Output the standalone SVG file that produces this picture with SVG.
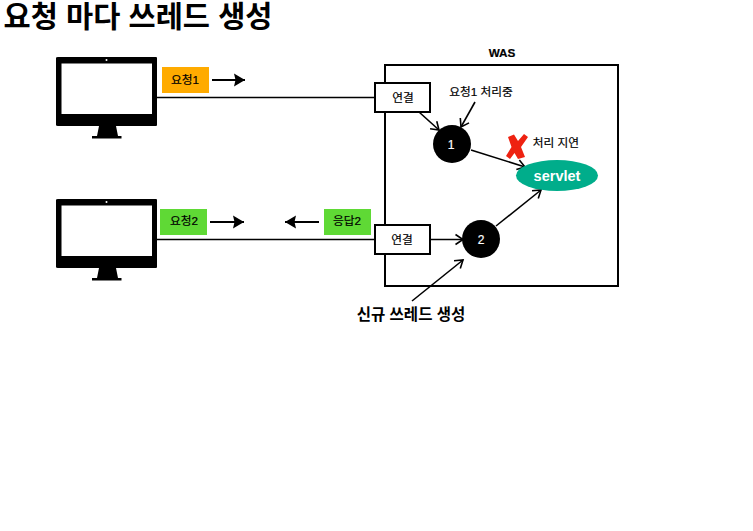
<svg xmlns="http://www.w3.org/2000/svg" width="753" height="531" viewBox="0 0 753 531">
<style>
text{font-family:"Liberation Sans","Noto Sans CJK KR",sans-serif;fill:#000;text-anchor:middle}
.s{font-size:11.7px;stroke:#000;stroke-width:.2}
.w{font-size:12px;fill:#fff;stroke:#fff;stroke-width:.2}
.b{font-weight:bold}
.line{fill:none;stroke:#000;stroke-width:1.6}
.arr{marker-end:url(#a)}
.box{fill:#fff;stroke:#000;stroke-width:2}
.big{fill:none;stroke:#000;stroke-width:2}
</style>
<defs>
<marker id="a" markerUnits="userSpaceOnUse" markerWidth="14" markerHeight="14" refX="11" refY="7" orient="auto"><path d="M3.500 2L11 7L3.500 12" fill="none" stroke="#000" stroke-width="1.600"/></marker>
<marker id="t" markerUnits="userSpaceOnUse" markerWidth="12" markerHeight="14" refX="11" refY="7" orient="auto"><path d="M0 .500L11 7L0 13.500L1.500 7Z" fill="#000"/></marker>
<g id="mon"><path fill-rule="evenodd" d="M58 57H156Q157 57 157 58V125Q157 126 156 126H58Q56 126 56 125V58Q56 57 58 57ZM61.500 63.500V114H152V63.500Z" fill="#000"/><circle cx="106.500" cy="60" r="1" fill="#fff"/><path d="M99 126H116L118 136H121.500V138.500H92V136H97Z" fill="#000"/></g>
</defs>
<text id="title" x="138" y="27" class="b" style="font-size:29.500px">요청 마다 쓰레드 생성</text>
<g id="connectors">
<path class="line" d="M157 97.500H375"/>
<path class="line" d="M157 239.500H375"/>
<path class="line arr" d="M419 112L439 130"/>
<path class="line arr" d="M475 102L461 127"/>
<path class="line arr" d="M471 150L525 167"/>
<path class="line arr" d="M430 239.500H463"/>
<path class="line arr" d="M496 226L541 190"/>
<path class="line arr" d="M412 301L463 260"/>
<path class="big" d="M212 80H245" marker-end="url(#t)"/>
<path class="big" d="M210 222H244" marker-end="url(#t)"/>
<path class="big" d="M319 222H285" marker-end="url(#t)"/>
</g>
<g id="monitor1"><use href="#mon"/></g>
<g id="monitor2"><use href="#mon" y="142"/></g>
<g id="req1"><rect x="162" y="67" width="47" height="26" fill="#ffab00"/><text x="185" y="84" class="s">요청1</text></g>
<g id="req2"><rect x="160" y="209" width="47" height="26" fill="#5fd935"/><text x="184" y="225" class="s">요청2</text></g>
<g id="res2"><rect x="324" y="209" width="47" height="26" fill="#5fd935"/><text x="347" y="225" class="s">응답2</text></g>
<g id="was"><rect x="385" y="65" width="233" height="221" fill="none" stroke="#000" stroke-width="2"/><text x="502" y="57" class="s b">WAS</text></g>
<g id="conn1"><rect class="box" x="375" y="83" width="55" height="29"/><text x="403" y="102" class="s">연결</text></g>
<g id="conn2"><rect class="box" x="375" y="225" width="55" height="29"/><text x="402" y="244" class="s">연결</text></g>
<g id="t1"><circle cx="452" cy="144" r="19" fill="#000"/><text x="451" y="149" class="w">1</text></g>
<g id="t2"><circle cx="481" cy="239" r="19" fill="#000"/><text x="481" y="244" class="w">2</text></g>
<g id="servlet"><ellipse cx="557" cy="175.500" rx="41" ry="15.500" fill="#00ad8b"/><text x="557" y="181" class="b" style="font-size:14.500px;fill:#fff">servlet</text></g>
<g id="x"><path d="M508 137L514 134.500L518 141L524 134L528 137L521 147L525 157L518 159L514.500 153L510 159L506 156L511.500 147Z" fill="#ee2211"/></g>
<text id="l1" x="481" y="96" class="s">요청1 처리중</text>
<text id="l2" x="556" y="147" class="s">처리 지연</text>
<text id="l3" x="411" y="320" class="b" style="font-size:15.500px">신규 쓰레드 생성</text>
</svg>
